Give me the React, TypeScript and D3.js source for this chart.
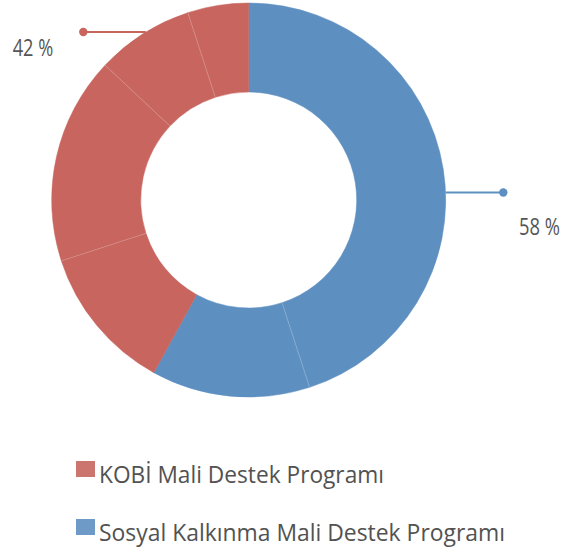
import React from "react";
import * as d3 from "d3";

const groupNames = ["KOBİ Mali Destek Programı", "Sosyal Kalkınma Mali Destek Programı"];
const groupColors = ["#C7655E", "#5D8FC1"];
// segments clockwise from 12 o'clock
const segmentValues = [45, 13, 12, 17, 8, 5];
const segmentGroup = [1, 1, 0, 0, 0, 0];

const W = 573;
const H = 553;
const cx = 248.7;
const cy = 200;
const outerR = 197;
const innerR = 108;
const FONT = "'Open Sans', 'Noto Sans', sans-serif";

export default function App() {
  const pie = d3
    .pie<number>()
    .sort(null)
    .value((d) => d)
    .startAngle(0)
    .endAngle(Math.PI * 2);
  const arcs = pie(segmentValues);
  const arcGen = d3.arc<d3.PieArcDatum<number>>().innerRadius(innerR).outerRadius(outerR);

  const totals = groupNames.map((_, g) =>
    d3.sum(segmentValues.filter((_, i) => segmentGroup[i] === g))
  );
  const grand = d3.sum(segmentValues);
  const pct = totals.map((t) => Math.round((t / grand) * 100));

  // separators between neighbouring segments of the same group
  const separators = arcs
    .map((a, i) => {
      const next = (i + 1) % arcs.length;
      if (segmentGroup[i] !== segmentGroup[next]) return null;
      return a.endAngle;
    })
    .filter((v) => v !== null) as number[];

  const leaders = [
    { g: 0, angle: 328.5, dotX: 83.3, textX: 53.3, dy: 23.5, anchor: "end", len: 40.6 },
    { g: 1, angle: 87.8, dotX: 503.3, textX: 519, dy: 43, anchor: "start", len: 41 },
  ];

  return (
    <svg
      width={W}
      height={H}
      style={{ position: "absolute", left: 0, top: 0, background: "#fff" }}
      xmlns="http://www.w3.org/2000/svg"
    >
      <g transform={`translate(${cx},${cy})`}>
        {arcs.map((a, i) => (
          <path
            key={i}
            d={arcGen(a) || ""}
            fill={groupColors[segmentGroup[i]]}
            stroke={groupColors[segmentGroup[i]]}
            strokeWidth={0.5}
          />
        ))}
        {separators.map((ang, i) => (
          <line
            key={i}
            x1={innerR * Math.sin(ang)}
            y1={-innerR * Math.cos(ang)}
            x2={outerR * Math.sin(ang)}
            y2={-outerR * Math.cos(ang)}
            stroke="rgba(255,255,255,0.3)"
            strokeWidth={0.7}
          />
        ))}
      </g>
      {leaders.map((l) => {
        const rad = (l.angle * Math.PI) / 180;
        const x0 = cx + outerR * Math.sin(rad);
        const y0 = cy - outerR * Math.cos(rad);
        const color = groupColors[l.g];
        return (
          <g key={l.g}>
            <line x1={x0} y1={y0} x2={l.dotX} y2={y0} stroke={color} strokeWidth={2} />
            <circle cx={l.dotX} cy={y0} r={4.2} fill={color} />
            <text
              x={l.textX}
              y={y0 + l.dy}
              textAnchor={l.anchor as any}
              fontFamily={FONT}
              fontSize={23}
              fill="#555"
              textLength={l.len}
              lengthAdjust="spacingAndGlyphs"
            >
              {`${pct[l.g]} %`}
            </text>
          </g>
        );
      })}
      {groupNames.map((name, g) => {
        const y = 461 + g * 58;
        return (
          <g key={name}>
            <rect x={76} y={y} width={19} height={16} fill={groupColors[g]} opacity={0.9} />
            <text
              x={99}
              y={y + 22.3}
              fontFamily={FONT}
              fontSize={24.5}
              fill="#525252"
              textLength={g === 0 ? 285 : 406}
              lengthAdjust="spacingAndGlyphs"
            >
              {name}
            </text>
          </g>
        );
      })}
    </svg>
  );
}
